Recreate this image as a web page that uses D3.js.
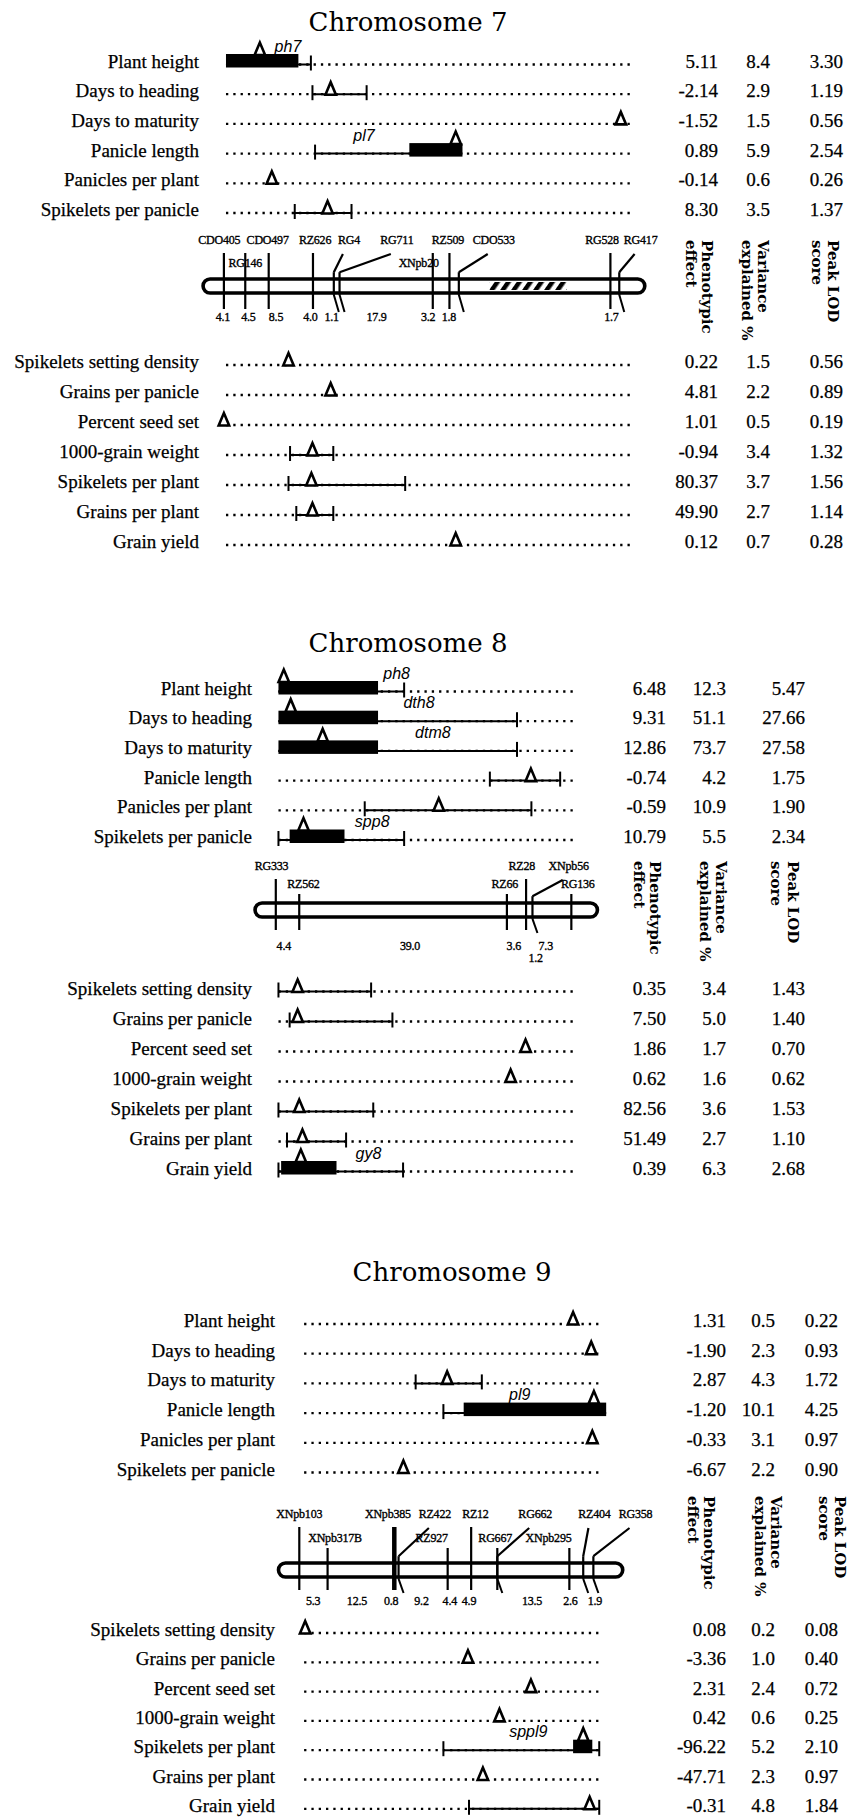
<!DOCTYPE html>
<html><head><meta charset="utf-8">
<script src="https://cdn.jsdelivr.net/npm/d3@7"></script>
<style>
html,body{margin:0;padding:0;background:#fff;}
svg{display:block;}
.lab,.val{font-family:"Liberation Serif","Times New Roman",serif;font-size:19px;fill:#000;stroke:#000;stroke-width:0.25;}
.title{font-family:"DejaVu Serif",serif;font-size:26px;fill:#000;}
.mk{font-family:"Liberation Serif",serif;font-size:12px;fill:#000;stroke:#000;stroke-width:0.35;letter-spacing:-0.2px;}
.gene{font-family:"Liberation Sans",Arial,sans-serif;font-style:italic;font-size:16px;fill:#000;}
.hdr{font-family:"DejaVu Serif",serif;font-weight:bold;font-size:15px;fill:#000;}
</style></head><body>
<svg id="chart" width="862" height="1820"></svg>
<script>
// ================= DATA =================
const traitsTop = ["Plant height","Days to heading","Days to maturity","Panicle length","Panicles per plant","Spikelets per panicle"];
const traitsBottom = ["Spikelets setting density","Grains per panicle","Percent seed set","1000-grain weight","Spikelets per plant","Grains per plant","Grain yield"];
const headerLines = [["Phenotypic","effect"],["Variance","explained %"],["Peak LOD","score"]];

// ---- Chromosome 7 (positions in cM) ----
const chr7TopPeak = [6.9, 20.5, 76.2, 44.5, 9.2, 19.9];
const chr7TopCI = [[0.4,16.7],[17.0,27.4],null,[17.5,45.8],null,[13.6,24.5]];
const chr7TopBar = [[0.4,14.3],null,null,[35.6,45.8],null,null];
const chr7TopGene = ["ph7","","","pl7","",""];
const chr7TopGeneCM = [12.3,0,0,26.9,0,0];
const chr7TopEffect = ["5.11","-2.14","-1.52","0.89","-0.14","8.30"];
const chr7TopVar = ["8.4","2.9","1.5","5.9","0.6","3.5"];
const chr7TopLod = ["3.30","1.19","0.56","2.54","0.26","1.37"];

const chr7BotPeak = [12.4, 20.5, 0.0, 17.0, 16.8, 17.0, 44.5];
const chr7BotCI = [null,null,null,[12.7,21.0],[12.4,34.8],[13.9,21.0],null];
const chr7BotBar = [null,null,null,null,null,null,null];
const chr7BotGene = ["","","","","","",""];
const chr7BotGeneCM = [0,0,0,0,0,0,0];
const chr7BotEffect = ["0.22","4.81","1.01","-0.94","80.37","49.90","0.12"];
const chr7BotVar = ["1.5","2.2","0.5","3.4","3.7","2.7","0.7"];
const chr7BotLod = ["0.56","0.89","0.19","1.32","1.56","1.14","0.28"];

const chr7Markers = ["CDO405","RG146","CDO497","RZ626","RG4","RG711","XNpb20","RZ509","CDO533","RG528","RG417"];
const chr7MarkerCM = [0,4.1,8.6,17.1,21.1,22.2,40.1,43.3,45.1,74.2,75.9];
const chr7LabelCM = [-0.9,4.1,8.4,17.5,24.0,33.2,37.4,43.0,51.8,72.6,80.0];
const chr7LabelRow = [1,2,1,1,1,1,2,1,1,1,1];
const chr7Angled = [0,0,0,0,1,1,0,0,1,0,1];
const chr7Intervals = ["4.1","4.5","8.5","4.0","1.1","17.9","3.2","1.8","1.7"];
const chr7IntervalCM = [-0.2,4.7,10.0,16.6,20.7,29.3,39.2,43.2,74.4];
const chr7IntervalRow = [1,1,1,1,1,1,1,1,1];
const chr7Hatch = [51.0, 65.8];

// ---- Chromosome 8 ----
const chr8TopPeak = [1.5, 2.8, 8.8, 47.9, 30.6, 5.2];
const chr8TopCI = [[0.5,24.1],[0.5,45.3],[0.5,45.3],[40.2,53.4],[16.7,48.0],[0.5,24.1]];
const chr8TopBar = [[0.5,19.2],[0.5,19.2],[0.5,19.2],null,null,[2.6,12.9]];
const chr8TopGene = ["ph8","dth8","dtm8","","","spp8"];
const chr8TopGeneCM = [22.7,26.9,29.5,0,0,18.1];
const chr8TopEffect = ["6.48","9.31","12.86","-0.74","-0.59","10.79"];
const chr8TopVar = ["12.3","51.1","73.7","4.2","10.9","5.5"];
const chr8TopLod = ["5.47","27.66","27.58","1.75","1.90","2.34"];

const chr8BotPeak = [4.1, 4.1, 46.9, 44.1, 4.4, 5.0, 4.7];
const chr8BotCI = [[0.5,17.9],[2.6,21.9],null,null,[0.5,18.3],[2.1,13.2],[0.5,23.9]];
const chr8BotBar = [null,null,null,null,null,null,[1.0,11.4]];
const chr8BotGene = ["","","","","","","gy8"];
const chr8BotGeneCM = [0,0,0,0,0,0,17.4];
const chr8BotEffect = ["0.35","7.50","1.86","0.62","82.56","51.49","0.39"];
const chr8BotVar = ["3.4","5.0","1.7","1.6","3.6","2.7","6.3"];
const chr8BotLod = ["1.43","1.40","0.70","0.62","1.53","1.10","2.68"];

const chr8Markers = ["RG333","RZ562","RZ66","RZ28","XNpb56","RG136"];
const chr8MarkerCM = [0,4.4,43.4,47.0,48.2,55.5];
const chr8LabelCM = [-0.8,5.2,43.0,46.2,55.0,56.7];
const chr8LabelRow = [1,2,2,1,1,2];
const chr8Angled = [0,0,0,0,1,0];
const chr8Intervals = ["4.4","39.0","3.6","1.2","7.3"];
const chr8IntervalCM = [1.5,25.2,44.7,48.8,50.7];
const chr8IntervalRow = [1,1,1,2,1];

// ---- Chromosome 9 ----
const chr9TopPeak = [51.3, 54.7, 27.7, 55.2, 54.9, 19.5];
const chr9TopCI = [null,null,[21.8,34.2],[27.0,57.5],null,null];
const chr9TopBar = [null,null,null,[30.8,57.5],null,null];
const chr9TopGene = ["","","","pl9","",""];
const chr9TopGeneCM = [0,0,0,41.3,0,0];
const chr9TopEffect = ["1.31","-1.90","2.87","-1.20","-0.33","-6.67"];
const chr9TopVar = ["0.5","2.3","4.3","10.1","3.1","2.2"];
const chr9TopLod = ["0.22","0.93","1.72","4.25","0.97","0.90"];

const chr9BotPeak = [1.1, 31.6, 43.4, 37.5, 53.2, 34.4, 54.4];
const chr9BotCI = [null,null,null,null,[27.0,56.2],null,[31.8,56.2]];
const chr9BotBar = [null,null,null,null,[51.3,54.9],null,null];
const chr9BotGene = ["","","","","sppl9","",""];
const chr9BotGeneCM = [0,0,0,0,42.9,0,0];
const chr9BotEffect = ["0.08","-3.36","2.31","0.42","-96.22","-47.71","-0.31"];
const chr9BotVar = ["0.2","1.0","2.4","0.6","5.2","2.3","4.8"];
const chr9BotLod = ["0.08","0.40","0.72","0.25","2.10","0.97","1.84"];

const chr9Markers = ["XNpb103","XNpb317B","XNpb385","RZ422","RZ927","RZ12","RG667","RG662","XNpb295","RZ404","RG358"];
const chr9MarkerCM = [0,5.3,17.8,18.6,27.8,32.2,37.1,37.1,50.6,53.2,55.1];
const chr9LabelCM = [0,6.7,16.6,25.4,24.8,33.0,36.7,44.2,46.7,55.3,63.0];
const chr9LabelRow = [1,2,1,1,2,1,2,1,2,1,1];
const chr9Angled = [0,0,0,1,0,0,0,1,0,1,1];
const chr9Intervals = ["5.3","12.5","0.8","9.2","4.4","4.9","13.5","2.6","1.9"];
const chr9IntervalCM = [2.6,10.8,17.2,22.9,28.2,31.8,43.6,50.8,55.4];
const chr9IntervalRow = [1,1,1,1,1,1,1,1,1];

// ================= LAYOUT =================
const layouts = [
  {title:"Chromosome 7", titleX:408, titleY:31, x0:223.9, k:5.209, rowDomain:[0.4,78.4],
   labelRight:199, valueRight:[718,770,843], topY0:63.5, topStep:29.7, botY0:364, botStep:30,
   barY:286, barDomain:[-4.0,80.8], row1:244, row2:267, distBase:[321,333], tickBottom:309, tallTicks:true,
   headX:[[707,691],[763,747],[833,817]], headTop:240, boldMarkers:[]},
  {title:"Chromosome 8", titleX:408, titleY:652, x0:275.8, k:5.325, rowDomain:[0.5,56.3],
   labelRight:252, valueRight:[666,726,805], topY0:690.5, topStep:29.7, botY0:990.5, botStep:30,
   barY:910, barDomain:[-3.9,60.4], row1:870, row2:888, distBase:[950,962], tickBottom:930, tallTicks:false,
   headX:[[655,639],[721,705],[793,776]], headTop:861, boldMarkers:[]},
  {title:"Chromosome 9", titleX:452, titleY:1281, x0:299.3, k:5.337, rowDomain:[0.9,56.3],
   labelRight:275, valueRight:[726,775,838], topY0:1323, topStep:29.7, botY0:1632, botStep:29.3,
   barY:1570, barDomain:[-3.9,60.6], row1:1518, row2:1542, distBase:[1605,1617], tickBottom:1590, tallTicks:false,
   headX:[[709,693],[776,760],[840,824]], headTop:1496, boldMarkers:["XNpb385"]}
];

const panels = [
  {top:{peak:chr7TopPeak,ci:chr7TopCI,bar:chr7TopBar,gene:chr7TopGene,geneCM:chr7TopGeneCM,vals:[chr7TopEffect,chr7TopVar,chr7TopLod]},
   bot:{peak:chr7BotPeak,ci:chr7BotCI,bar:chr7BotBar,gene:chr7BotGene,geneCM:chr7BotGeneCM,vals:[chr7BotEffect,chr7BotVar,chr7BotLod]},
   map:{names:chr7Markers,cm:chr7MarkerCM,labelCM:chr7LabelCM,row:chr7LabelRow,angled:chr7Angled,dist:chr7Intervals,distCM:chr7IntervalCM,distRow:chr7IntervalRow,hatch:chr7Hatch}},
  {top:{peak:chr8TopPeak,ci:chr8TopCI,bar:chr8TopBar,gene:chr8TopGene,geneCM:chr8TopGeneCM,vals:[chr8TopEffect,chr8TopVar,chr8TopLod]},
   bot:{peak:chr8BotPeak,ci:chr8BotCI,bar:chr8BotBar,gene:chr8BotGene,geneCM:chr8BotGeneCM,vals:[chr8BotEffect,chr8BotVar,chr8BotLod]},
   map:{names:chr8Markers,cm:chr8MarkerCM,labelCM:chr8LabelCM,row:chr8LabelRow,angled:chr8Angled,dist:chr8Intervals,distCM:chr8IntervalCM,distRow:chr8IntervalRow,hatch:null}},
  {top:{peak:chr9TopPeak,ci:chr9TopCI,bar:chr9TopBar,gene:chr9TopGene,geneCM:chr9TopGeneCM,vals:[chr9TopEffect,chr9TopVar,chr9TopLod]},
   bot:{peak:chr9BotPeak,ci:chr9BotCI,bar:chr9BotBar,gene:chr9BotGene,geneCM:chr9BotGeneCM,vals:[chr9BotEffect,chr9BotVar,chr9BotLod]},
   map:{names:chr9Markers,cm:chr9MarkerCM,labelCM:chr9LabelCM,row:chr9LabelRow,angled:chr9Angled,dist:chr9Intervals,distCM:chr9IntervalCM,distRow:chr9IntervalRow,hatch:null}}
];

// ================= DRAW =================
const svg = d3.select("#chart");
svg.append("rect").attr("width",862).attr("height",1820).attr("fill","#fff");
const defs = svg.append("defs");
const pat = defs.append("pattern").attr("id","hatch").attr("patternUnits","userSpaceOnUse")
  .attr("width",9).attr("height",9).attr("patternTransform","rotate(35)");
pat.append("rect").attr("width",9).attr("height",9).attr("fill","#fff");
pat.append("rect").attr("x",0).attr("y",0).attr("width",4.5).attr("height",9).attr("fill","#000");

function drawRows(g, x, traits, q, L0, step, cfg) {
  const y = d3.scaleLinear().domain([0, traits.length-1]).range([L0, L0 + (traits.length-1)*step]);
  traits.forEach((t,i) => {
    const L = y(i);
    g.append("text").attr("class","lab").attr("x",cfg.labelRight).attr("y",L+4).attr("text-anchor","end").text(t);
    g.append("line").attr("x1",x(cfg.rowDomain[0])).attr("x2",x(cfg.rowDomain[1]))
      .attr("y1",L+1).attr("y2",L+1).attr("stroke","#000").attr("stroke-width",2.3)
      .attr("stroke-dasharray","2.3 5");
    const ci = q.ci[i], bar = q.bar[i];
    if (ci) {
      g.append("line").attr("x1",x(ci[0])).attr("x2",x(ci[1])).attr("y1",L+1).attr("y2",L+1)
        .attr("stroke","#000").attr("stroke-width",2);
      ci.forEach(c => {
        if (bar && c >= bar[0]-0.05 && c <= bar[1]+0.05) return;
        g.append("line").attr("x1",x(c)).attr("x2",x(c)).attr("y1",L-8).attr("y2",L+7)
          .attr("stroke","#000").attr("stroke-width",2);
      });
    }
    if (bar) {
      g.append("rect").attr("x",x(bar[0])).attr("y",L-9.5).attr("width",x(bar[1])-x(bar[0])).attr("height",13.5).attr("fill","#000");
    }
    if (q.gene[i]) {
      g.append("text").attr("class","gene").attr("x",x(q.geneCM[i])).attr("y",L-12).attr("text-anchor","middle").text(q.gene[i]);
    }
    const p = q.peak[i];
    const onBar = bar && p >= bar[0] && p <= bar[1];
    const base = onBar ? L-8.5 : L+1.5, h = 12.5, w = 10.5;
    g.append("path").attr("d",`M${x(p)-w/2},${base}L${x(p)},${base-h}L${x(p)+w/2},${base}Z`)
      .attr("fill","#fff").attr("stroke","#000").attr("stroke-width",2.6).attr("stroke-linejoin","miter");
    q.vals.forEach((col,j) => {
      g.append("text").attr("class","val").attr("x",cfg.valueRight[j]).attr("y",L+4).attr("text-anchor","end").text(col[i]);
    });
  });
}

function drawMap(g, x, m, cfg) {
  const bh = 14, by = cfg.barY, top = by - bh/2 - 1.8, bottom = by + bh/2 + 1.8;
  g.append("rect").attr("x",x(cfg.barDomain[0])).attr("y",by-bh/2).attr("width",x(cfg.barDomain[1])-x(cfg.barDomain[0]))
    .attr("height",bh).attr("rx",bh/2).attr("fill","#fff").attr("stroke","#000").attr("stroke-width",3.6);
  if (m.hatch) {
    g.append("rect").attr("x",x(m.hatch[0])).attr("y",by-bh/2+3).attr("width",x(m.hatch[1])-x(m.hatch[0]))
      .attr("height",bh-6).attr("fill","url(#hatch)");
  }
  m.names.forEach((nm,i) => {
    const xt = x(m.cm[i]), xl = x(m.labelCM[i]);
    const rowBase = m.row[i] === 1 ? cfg.row1 : cfg.row2;
    const sw = cfg.boldMarkers.includes(nm) ? 4.5 : 2.2;
    g.append("text").attr("class","mk").attr("x",xl).attr("y",rowBase).attr("text-anchor","middle").text(nm);
    if (m.angled[i]) {
      g.append("line").attr("x1",xt).attr("x2",xt).attr("y1",top-5).attr("y2",bottom).attr("stroke","#000").attr("stroke-width",2.2);
      g.append("line").attr("x1",xt).attr("y1",top-5).attr("x2",xl-6).attr("y2",cfg.row1+10).attr("stroke","#000").attr("stroke-width",2.2);
      g.append("line").attr("x1",xt).attr("y1",bottom).attr("x2",xt+5).attr("y2",cfg.tickBottom+3).attr("stroke","#000").attr("stroke-width",2);
    } else {
      const tt = (m.row[i] === 1 || cfg.tallTicks) ? cfg.row1 + 9 : cfg.row2 + 6;
      g.append("line").attr("x1",xt).attr("x2",xt).attr("y1",tt).attr("y2",cfg.tickBottom).attr("stroke","#000").attr("stroke-width",sw);
    }
  });
  m.dist.forEach((d,i) => {
    g.append("text").attr("class","mk").attr("x",x(m.distCM[i])).attr("y",cfg.distBase[m.distRow[i]-1])
      .attr("text-anchor","middle").text(d);
  });
}

function drawHeaders(g, cfg) {
  headerLines.forEach((lines,j) => {
    lines.forEach((ln,k) => {
      g.append("text").attr("class","hdr")
        .attr("transform",`translate(${cfg.headX[j][k]-5.5},${cfg.headTop}) rotate(90)`)
        .text(ln);
    });
  });
}

layouts.forEach((cfg,pi) => {
  const P = panels[pi];
  const g = svg.append("g");
  const x = d3.scaleLinear().domain([0,100]).range([cfg.x0, cfg.x0 + 100*cfg.k]);
  g.append("text").attr("class","title").attr("x",cfg.titleX).attr("y",cfg.titleY).attr("text-anchor","middle").text(cfg.title);
  drawRows(g, x, traitsTop, P.top, cfg.topY0, cfg.topStep, cfg);
  drawRows(g, x, traitsBottom, P.bot, cfg.botY0, cfg.botStep, cfg);
  drawMap(g, x, P.map, cfg);
  drawHeaders(g, cfg);
});
</script>
</body></html>
